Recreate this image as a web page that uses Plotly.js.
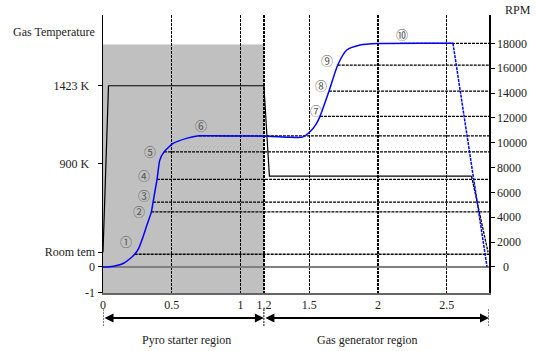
<!DOCTYPE html>
<html>
<head>
<meta charset="utf-8">
<script src="https://cdn.plot.ly/plotly-3.0.1.min.js"></script>
<style>html,body{margin:0;padding:0;background:#fff;}#chart{width:537px;height:351px;}</style>
</head>
<body>
<div id="chart"></div>
<script>
// ---- data (time in s, RPM; temperature in RPM-equivalent scale of the plot) ----
const timeRpm = [0, 0.05, 0.1, 0.15, 0.2, 0.23, 0.26, 0.291, 0.32, 0.352, 0.364, 0.393, 0.413, 0.444, 0.51, 0.607, 0.697, 0.8, 1.0, 1.2, 1.35, 1.45, 1.505, 1.55, 1.578, 1.644, 1.707, 1.773, 1.87, 2.0, 2.545];
const rpm = [0, 20, 110, 300, 700, 1023, 1500, 2420, 3400, 4432, 5214, 7043, 8600, 9267, 9940, 10350, 10556, 10560, 10540, 10520, 10450, 10450, 10880, 11500, 12119, 14158, 16253, 17460, 17865, 17980, 18000];
const rpmStopX = [2.545, 2.793];
const rpmStopY = [18000, 0];

const tempX = [0, 0.04, 1.17, 1.21, 2.68];
const tempY = [1185, 14584, 14584, 7309, 7309];
const tempStopX = [2.68, 2.80];
const tempStopY = [7309, 1185];

const markX = [0.23, 0.352, 0.364, 0.393, 0.444, 0.697, 1.578, 1.644, 1.707, 2.16];
const markY = [1023, 4432, 5214, 7043, 9267, 10556, 12119, 14158, 16253, 18000];
const markLabels = ['①','②','③','④','⑤','⑥','⑦','⑧','⑨','⑩'];
const labelX = [0.165, 0.26, 0.296, 0.296, 0.34, 0.712, 1.549, 1.588, 1.629, 2.173];
const labelY = [2014, 4464, 5721, 7332, 9322, 11417, 12602, 14616, 16655, 18693];

const xTickVals = [0, 0.5, 1, 1.17, 1.5, 2, 2.5];
const xTickText = ['0', '0.5', '1', '1.2', '1.5', '2', '2.5'];
const leftTickVals = [-2080, 0, 1185, 8331, 14584];
const leftTickText = ['-1', '0', 'Room tem', '900 K\u00a0\u00a0', '1423 K\u00a0\u00a0'];
const rightTickVals = [0, 2000, 4000, 6000, 8000, 10000, 12000, 14000, 16000, 18000];
const rightTickText = ['\u00a0\u00a00', '2000', '4000', '6000', '8000', '10000', '12000', '14000', '16000', '18000'];

const regionBounds = [0, 1.17, 2.807];
const regionNames = ['Pyro starter region', 'Gas generator region'];
const regionLabelX = [0.61, 1.92];
const pyroTop = 17900;

const xRange = [0, 2.807];
const yRange = [-2095, 20280];

const FONT = '"Liberation Serif", "Times New Roman", serif';
const DASH = '3px,1px';

const traces = [];
// horizontal dashed reference lines
for (let i = 0; i < markX.length; i++) {
  traces.push({x: [markX[i], xRange[1]], y: [markY[i], markY[i]], yaxis: 'y2', mode: 'lines',
    line: {color: '#000', width: 1.3, dash: DASH}, hoverinfo: 'skip', showlegend: false});
}
traces.push({x: tempX, y: tempY, mode: 'lines', line: {color: '#000', width: 1.2}, showlegend: false});
traces.push({x: tempStopX, y: tempStopY, mode: 'lines', line: {color: '#000', width: 1.3, dash: DASH}, showlegend: false});
traces.push({x: timeRpm, y: rpm, yaxis: 'y2', mode: 'lines', line: {color: '#0000ff', width: 1.5, shape: 'spline', smoothing: 0.6}, showlegend: false});
traces.push({x: rpmStopX, y: rpmStopY, yaxis: 'y2', mode: 'lines', line: {color: '#0000ff', width: 1.5, dash: DASH}, showlegend: false});

const annotations = [];
for (let i = 0; i < markLabels.length; i++) {
  annotations.push({x: labelX[i], y: labelY[i], xref: 'x', yref: 'y', text: markLabels[i], showarrow: false,
    xanchor: 'center', yanchor: 'middle',
    font: {family: '"Noto Sans CJK JP"', size: 12, color: '#555'}});
}
annotations.push({x: -0.238, xref: 'paper', xanchor: 'left', y: 18911, yref: 'y', yanchor: 'middle', text: 'Gas Temperature', showarrow: false,
  font: {family: FONT, size: 12, color: '#222'}});
annotations.push({x: 1.074, xref: 'paper', xanchor: 'center', y: 1.018, yref: 'paper', yanchor: 'middle', text: 'RPM', showarrow: false,
  font: {family: FONT, size: 12, color: '#222'}});
for (let i = 0; i < regionNames.length; i++) {
  annotations.push({x: regionLabelX[i], xref: 'x', xanchor: 'center', y: -0.169, yref: 'paper', yanchor: 'middle', text: regionNames[i], showarrow: false,
    font: {family: FONT, size: 12, color: '#222'}});
  annotations.push({x: regionBounds[i + 1], xref: 'x', ax: regionBounds[i], axref: 'x', y: -0.09, yref: 'paper', ay: 0, ayref: 'pixel',
    text: '', showarrow: true, arrowside: 'end+start', arrowhead: 2, startarrowhead: 2, arrowsize: 1, startarrowsize: 1,
    arrowwidth: 1.8, arrowcolor: '#000', standoff: 0, startstandoff: 0});
}

const shapes = [{type: 'rect', xref: 'x', yref: 'y', x0: regionBounds[0], x1: regionBounds[1], y0: yRange[0], y1: pyroTop,
  fillcolor: '#c0c0c0', line: {width: 0}, layer: 'below'}];
for (let i = 0; i < regionBounds.length; i++) {
  shapes.push({type: 'line', xref: 'x', yref: 'paper', x0: regionBounds[i], x1: regionBounds[i], y0: -0.058, y1: -0.122,
    line: {color: '#000', width: 1, dash: '2px,1px'}});
}

const layout = {
  width: 537, height: 351,
  margin: {l: 103, r: 48, t: 15, b: 58, pad: 0},
  paper_bgcolor: '#fff', plot_bgcolor: '#fff',
  font: {family: FONT, size: 12, color: '#222'},
  showlegend: false,
  xaxis: {range: xRange, tickvals: xTickVals, ticktext: xTickText, ticks: '', showgrid: true,
    gridcolor: '#000', gridwidth: 1.3, griddash: DASH, zeroline: false, showline: true, linecolor: '#666', linewidth: 1.5,
    tickfont: {family: FONT, size: 12, color: '#222'}, fixedrange: true},
  yaxis: {range: yRange, tickvals: leftTickVals, ticktext: leftTickText, ticks: 'outside', ticklen: 4, tickcolor: '#000',
    showgrid: false, zeroline: true, zerolinecolor: '#808080', zerolinewidth: 1.8, showline: true, linecolor: '#000', linewidth: 1.5,
    tickfont: {family: FONT, size: 12, color: '#222'}, fixedrange: true},
  yaxis2: {range: yRange, overlaying: 'y', side: 'right', tickvals: rightTickVals, ticktext: rightTickText, ticks: 'outside', ticklen: 4,
    tickcolor: '#000', showgrid: false, zeroline: false, showline: true, linecolor: '#000', linewidth: 1.5,
    tickfont: {family: FONT, size: 12, color: '#222'}, fixedrange: true},
  annotations: annotations,
  shapes: shapes
};

Plotly.newPlot('chart', traces, layout, {staticPlot: true, displayModeBar: false});
</script>
</body>
</html>
